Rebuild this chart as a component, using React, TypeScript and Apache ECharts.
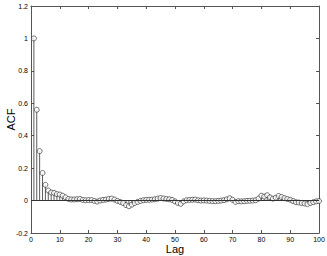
import React, { useEffect, useRef } from "react";
import * as echarts from "echarts";

const lags: number[] = Array.from({ length: 100 }, (_, i) => i + 1);
const acf: number[] = [
  1.0, 0.56, 0.305, 0.17, 0.097, 0.062, 0.05, 0.047, 0.04, 0.037,
  0.03, 0.02, 0.01, 0.007, 0.007, 0.008, 0.01, 0.004, 0.002, 0.003,
  0.003, -0.002, -0.006, 0.0, 0.004, 0.006, 0.01, 0.012, 0.006, -0.002,
  -0.008, -0.015, -0.028, -0.035, -0.025, -0.015, -0.008, -0.002, 0.002, 0.004,
  0.005, 0.006, 0.008, 0.012, 0.016, 0.013, 0.01, 0.008, 0.004, -0.005,
  -0.015, -0.02, -0.005, 0.002, 0.004, 0.005, 0.006, 0.002, 0.0, 0.001,
  0.0, -0.002, -0.003, -0.004, -0.002, 0.0, 0.003, 0.008, 0.014, 0.005,
  -0.008, -0.004, -0.005, -0.004, -0.002, -0.001, 0.0, 0.002, 0.012, 0.03,
  0.025, 0.033, 0.02, 0.012, 0.018, 0.028, 0.022, 0.015, 0.01, 0.005,
  -0.003, -0.01, -0.012, -0.015, -0.018, -0.022, -0.015, -0.01, -0.005, -0.003,
];
const xTicks = { min: 0, max: 100, interval: 10 };
const yTicks = { min: -0.2, max: 1.2, interval: 0.2 };

export default function App() {
  const ref = useRef<HTMLDivElement>(null);
  useEffect(() => {
    if (!ref.current) return;
    const chart = echarts.init(ref.current, null, { renderer: "svg" });
    const axisColor = "#555";
    const font = "Liberation Sans";
    const pts = lags.map((l, i) => [l, acf[i]]);
    const xCommon = {
      type: "value" as const,
      min: xTicks.min,
      max: xTicks.max,
      interval: xTicks.interval,
      axisLine: { show: true, onZero: false, lineStyle: { color: axisColor, width: 1 } },
      axisTick: { show: true, inside: true, length: 3, lineStyle: { color: axisColor } },
      splitLine: { show: false },
    };
    const yCommon = {
      type: "value" as const,
      min: yTicks.min,
      max: yTicks.max,
      interval: yTicks.interval,
      axisLine: { show: true, onZero: false, lineStyle: { color: axisColor, width: 1 } },
      axisTick: { show: true, inside: true, length: 3, lineStyle: { color: axisColor } },
      splitLine: { show: false },
    };
    chart.setOption({
      animation: false,
      backgroundColor: "#fff",
      grid: { left: 31, right: 8, top: 6, bottom: 23, containLabel: false, outerBoundsMode: "none" },
      xAxis: [
        {
          ...xCommon,
          position: "bottom",
          name: "Lag",
          nameLocation: "middle",
          nameGap: 10,
          nameMoveOverlap: false,
          nameTextStyle: { fontFamily: font, fontSize: 11, color: "#000" },
          axisLabel: { fontFamily: font, fontSize: 7, color: "#000", margin: 3 },
        },
        { ...xCommon, position: "top", axisLabel: { show: false } },
      ],
      yAxis: [
        {
          ...yCommon,
          position: "left",
          name: "ACF",
          nameLocation: "middle",
          nameGap: 15,
          nameMoveOverlap: false,
          nameRotate: 90,
          nameTextStyle: { fontFamily: font, fontSize: 11, color: "#000" },
          axisLabel: {
            fontFamily: font,
            fontSize: 7,
            color: "#000",
            margin: 3,
            formatter: (v: number) => String(Math.round(v * 10) / 10),
          },
        },
        { ...yCommon, position: "right", axisLabel: { show: false } },
      ],
      series: [
        {
          type: "custom",
          xAxisIndex: 0,
          yAxisIndex: 0,
          data: pts,
          renderItem: (params: any, api: any) => {
            const top = api.coord([api.value(0), api.value(1)]);
            const base = api.coord([api.value(0), 0]);
            return {
              type: "line",
              shape: { x1: top[0], y1: top[1], x2: base[0], y2: base[1] },
              style: { stroke: "#333", lineWidth: 0.8 },
            };
          },
          markLine: {
            silent: true,
            symbol: "none",
            label: { show: false },
            lineStyle: { color: "#333", width: 1, type: "solid" },
            data: [{ yAxis: 0 }],
          },
          z: 2,
        },
        {
          type: "scatter",
          xAxisIndex: 0,
          yAxisIndex: 0,
          data: pts,
          symbol: "circle",
          symbolSize: 5,
          itemStyle: { color: "#fff", borderColor: "#222", borderWidth: 0.8 },
          z: 3,
        },
      ],
    });
    return () => chart.dispose();
  }, []);
  return <div ref={ref} style={{ width: 327, height: 256, position: "absolute", left: 0, top: 0 }} />;
}
